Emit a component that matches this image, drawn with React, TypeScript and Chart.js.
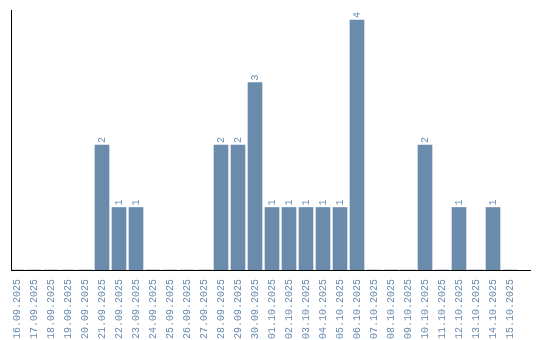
import React, { useEffect, useRef } from "react";
import { Chart, registerables } from "chart.js";

Chart.register(...registerables);

const dates: string[] = [
  "16.09.2025", "17.09.2025", "18.09.2025", "19.09.2025", "20.09.2025",
  "21.09.2025", "22.09.2025", "23.09.2025", "24.09.2025", "25.09.2025",
  "26.09.2025", "27.09.2025", "28.09.2025", "29.09.2025", "30.09.2025",
  "01.10.2025", "02.10.2025", "03.10.2025", "04.10.2025", "05.10.2025",
  "06.10.2025", "07.10.2025", "08.10.2025", "09.10.2025", "10.10.2025",
  "11.10.2025", "12.10.2025", "13.10.2025", "14.10.2025", "15.10.2025",
];

const counts: number[] = [
  0, 0, 0, 0, 0,
  2, 1, 1, 0, 0,
  0, 0, 2, 2, 3,
  1, 1, 1, 1, 1,
  4, 0, 0, 0, 2,
  0, 1, 0, 1, 0,
];

const BAR_COLOR = "#6a8bac";
const TEXT_COLOR = "#6a8bac";
const FONT_FAMILY = "'Liberation Mono', 'DejaVu Sans Mono', monospace";

const valueLabels = {
  id: "valueLabels",
  afterDatasetsDraw(chart: any) {
    const ctx = chart.ctx;
    const meta = chart.getDatasetMeta(0);
    ctx.save();
    ctx.fillStyle = TEXT_COLOR;
    ctx.font = `10px ${FONT_FAMILY}`;
    ctx.textAlign = "left";
    ctx.textBaseline = "middle";
    meta.data.forEach((bar: any, i: number) => {
      const v = counts[i];
      if (!v) return;
      ctx.save();
      ctx.translate(bar.x, bar.y - 2);
      ctx.rotate(-Math.PI / 2);
      ctx.fillText(String(v), 0, 0);
      ctx.restore();
    });
    ctx.restore();
  },
};

export default function App() {
  const ref = useRef<HTMLCanvasElement | null>(null);

  useEffect(() => {
    if (!ref.current) return;
    const chart = new Chart(ref.current, {
      type: "bar",
      data: {
        datasets: [
          {
            data: counts.map((c, i) => ({ x: i, y: c })),
            backgroundColor: BAR_COLOR,
            borderWidth: 0,
            barThickness: 14,
          },
        ],
      },
      options: {
        animation: false,
        responsive: false,
        devicePixelRatio: 1,
        layout: { padding: { left: 11, top: 10, right: 10, bottom: 0 } },
        plugins: { legend: { display: false }, tooltip: { enabled: false } },
        scales: {
          x: {
            type: "linear",
            offset: false,
            min: -6 / 17,
            max: 29 + 20 / 17,
            grid: { display: false, offset: false },
            border: { display: true, color: "#000", width: 1 },
            afterBuildTicks: (scale: any) => {
              scale.ticks = dates.map((_, i) => ({ value: i }));
            },
            afterFit: (scale: any) => {
              scale.height = 70;
              scale.paddingLeft = 0;
              scale.paddingRight = 0;
            },
            ticks: {
              autoSkip: false,
              maxRotation: 90,
              minRotation: 90,
              padding: 1,
              color: TEXT_COLOR,
              font: { family: FONT_FAMILY, size: 10 },
              callback: (value: any) => dates[Math.round(Number(value))] ?? "",
            },
          },
          y: {
            min: 0,
            max: 4.16,
            grid: { display: false },
            border: { display: true, color: "#000", width: 1 },
            ticks: { display: false },
            afterFit: (scale: any) => {
              scale.width = 0;
            },
          },
        },
      },
      plugins: [valueLabels],
    });
    return () => chart.destroy();
  }, []);

  return (
    <div style={{ position: "absolute", left: 0, top: 0, width: 540, height: 340, background: "#fff" }}>
      <canvas ref={ref} width={540} height={340} />
    </div>
  );
}
